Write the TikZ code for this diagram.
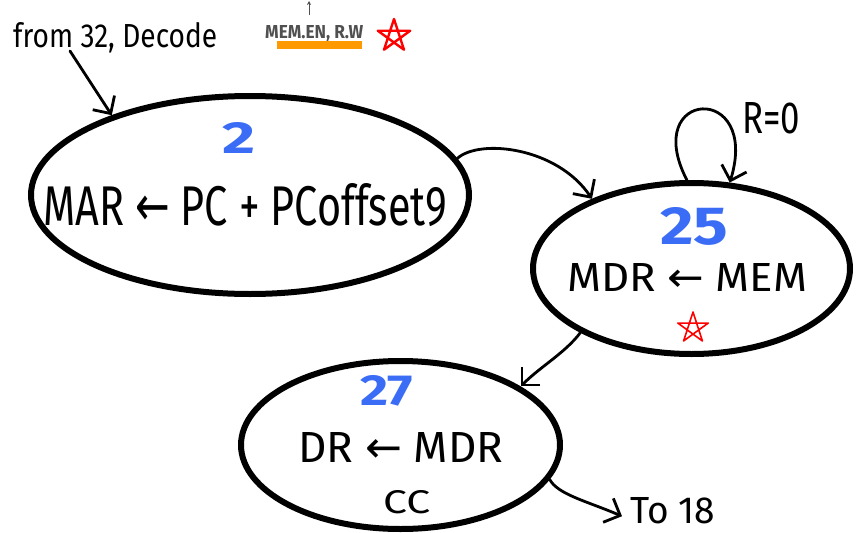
\documentclass[tikz,border=0pt]{standalone}
\usepackage{fontspec}
\usepackage{graphicx}
\usetikzlibrary{shapes.geometric,arrows.meta,calc}
\newfontfamily\hand{Fira Sans}
\newfontfamily\arrfont{DejaVu Sans}
% text scaled to a given width and height
\newcommand\handtext[3]{\resizebox{#1}{#2}{\hand #3}}
\newcommand\getsarrow{{\arrfont ←}}
\definecolor{stateblue}{RGB}{58,108,245}
\definecolor{barorange}{RGB}{255,153,0}
\definecolor{notegray}{RGB}{80,80,80}
\tikzset{
  state/.style={ellipse, draw, line width=6pt, inner sep=0pt},
  txt/.style={inner sep=0pt, anchor=base west},
  num/.style={txt, text=stateblue, font=\bfseries},
  conn/.style={line width=2.8pt, line cap=round, line join=round,
    -{Straight Barb[length=13pt,width=26pt]}},
  redstar/.pic={\draw[line join=round] (-90:1) -- (54:1) -- (198:1) -- (342:1) -- (126:1) -- cycle;}
}
\begin{document}
\begin{tikzpicture}[x=1pt,y=-1pt]
\fill[white] (0,0) rectangle (863,533);
\useasboundingbox (0,0) rectangle (863,533);

% states
\node[state, minimum width=438pt, minimum height=198pt] (s2)  at (250,195) {};
\node[state, minimum width=317pt, minimum height=171pt] (s25) at (691.5,268.5) {};
\node[state, minimum width=319pt, minimum height=168pt] (s27) at (400.5,445) {};

% state numbers
\node[num] (n2)  at (222,153) {\handtext{33pt}{31pt}{\bfseries 2}};
\node[num] (n25) at (660,244) {\handtext{68pt}{37pt}{\bfseries 25}};
\node[num] (n27) at (360,405) {\handtext{53pt}{30pt}{\bfseries 27}};

% state actions
\node[txt] (mar) at (43,225)  {\handtext{404pt}{42pt}{MAR \getsarrow\ PC + PCoffset9}};
\node[txt] (mdr) at (567,291) {\handtext{240pt}{28pt}{MDR \getsarrow\ MEM}};
\node[txt] (dr)  at (298,462) {\handtext{205pt}{30pt}{DR \getsarrow\ MDR}};
\node[txt] (cc)  at (383,513) {\handtext{47pt}{23pt}{CC}};

% labels
\node[txt] (from) at (13,47)  {\handtext{204pt}{25pt}{from 32, Decode}};
\node[txt] (r0)   at (742,133) {\handtext{58pt}{31pt}{R=0}};
\node[txt] (t18)  at (630,523) {\handtext{85pt}{26pt}{To 18}};
\node[txt, text=notegray] (memen) at (265,38) {\handtext{98pt}{13pt}{\bfseries MEM.EN, R.W}};

% memory-access marker
\fill[barorange] (277,41) rectangle (362,49);
\draw[notegray, line width=1pt, -{Stealth[length=4pt,width=4pt]}] (309,15) -- (309,1);
\pic[red, line width=2.4pt, scale=17] at (394,36) {redstar};
\pic[red, line width=1.6pt, scale=16] at (693,328) {redstar};

% transitions
\coordinate (fromtail) at (70,51);
\draw[conn] (fromtail) -- (s2.150);
\draw[conn] (s2.10) .. controls +(22,-20) and +(-35,-52) .. (s25.145);
\draw[conn] (s25.93) .. controls +(-47,-91) and +(31,-101) .. (s25.66);
\draw[conn] (s25.210) .. controls +(-15,20) and +(20,-20) .. (s27.26);
\draw[conn] (s27.-13) .. controls +(8,15) and +(-35,-15) .. ($(t18.west)+(-8,6)$);
\end{tikzpicture}
\end{document}
